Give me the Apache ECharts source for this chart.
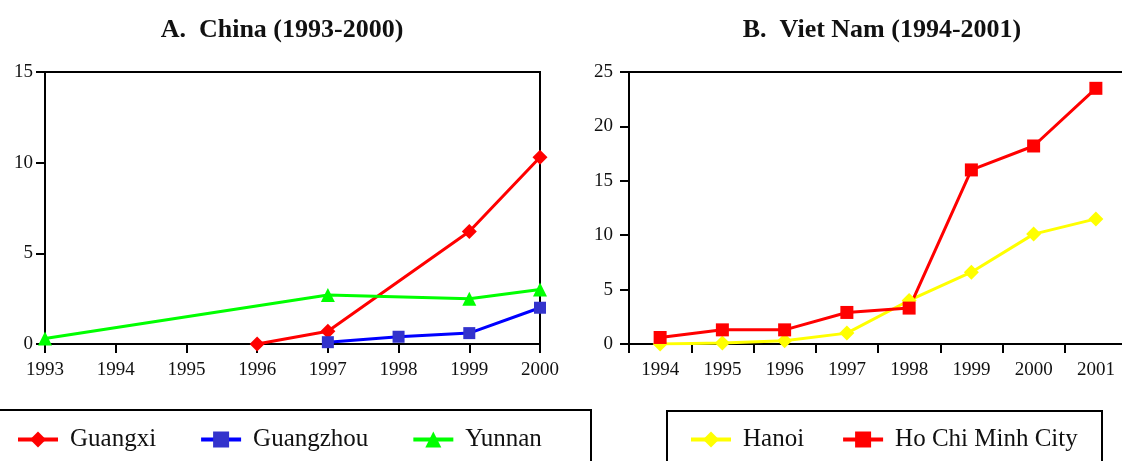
<!DOCTYPE html>
<html>
<head>
<meta charset="utf-8">
<script src="https://cdn.jsdelivr.net/npm/echarts@6/dist/echarts.min.js"></script>
<style>
  html, body { margin: 0; padding: 0; background: #fff; }
  #chart { width: 1122px; height: 461px; }
</style>
</head>
<body>
<div id="chart"></div>
<script>
// panel A: China
const chinaYears = ['1993', '1994', '1995', '1996', '1997', '1998', '1999', '2000']
const guangxi = [null, null, null, 0, 0.7, null, 6.2, 10.3]
const guangzhou = [null, null, null, null, 0.1, 0.4, 0.6, 2.0]
const yunnan = [0.3, null, null, null, 2.7, null, 2.5, 3.0]

// panel B: Viet Nam
const vietYears = ['1994', '1995', '1996', '1997', '1998', '1999', '2000', '2001']
const hanoi = [0, 0.1, 0.3, 1.0, 4.0, 6.6, 10.1, 11.5]
const hcmc = [0.6, 1.3, 1.3, 2.9, 3.3, 16.0, 18.2, 23.5]

const titles = ['A.  China (1993-2000)', 'B.  Viet Nam (1994-2001)']

const FONT = 'Liberation Serif'
const chart = echarts.init(document.getElementById('chart'))

const axisLine = { show: true, lineStyle: { color: '#000', width: 2 } }
const axisTick = { show: true, length: 9, lineStyle: { color: '#000', width: 2 } }
const labelStyle = { color: '#111', fontFamily: FONT, fontSize: 19 }
const legendText = { fontFamily: FONT, fontSize: 25, color: '#111', padding: [0, 0, 0, 7] }

// helper for line series
const lineSeries = (name, data, color, symbol, size, idx, symbolColor) => ({
  name,
  type: 'line',
  xAxisIndex: idx,
  yAxisIndex: idx,
  data,
  connectNulls: true,
  symbol,
  symbolSize: size,
  lineStyle: { color, width: 3 },
  itemStyle: { color: symbolColor || color },
  emphasis: { disabled: true },
  animation: false
})

const option = {
  animation: false,
  title: [
    { text: titles[0], left: 277, top: 12, textAlign: 'center',
      textStyle: { fontFamily: FONT, fontSize: 26, fontWeight: 'bold', color: '#111' } },
    { text: titles[1], left: 877, top: 12, textAlign: 'center',
      textStyle: { fontFamily: FONT, fontSize: 26, fontWeight: 'bold', color: '#111' } }
  ],
  grid: [
    { left: 45, top: 72, width: 495, height: 272, show: true, borderColor: '#000', borderWidth: 2,
      outerBoundsMode: 'none' },
    { left: 629, top: 72, width: 498, height: 272, show: true, borderColor: '#000', borderWidth: 2,
      outerBoundsMode: 'none' }
  ],
  xAxis: [
    {
      type: 'category', gridIndex: 0, data: chinaYears, boundaryGap: false,
      axisLine, axisTick: { ...axisTick, alignWithLabel: true },
      axisLabel: { ...labelStyle, margin: 17, interval: 0 }
    },
    {
      type: 'category', gridIndex: 1, data: vietYears, boundaryGap: true,
      axisLine, axisTick,
      axisLabel: { ...labelStyle, margin: 17, interval: 0 }
    }
  ],
  yAxis: [
    {
      type: 'value', gridIndex: 0, min: 0, max: 15, interval: 5,
      axisLine, axisTick, splitLine: { show: false },
      axisLabel: { ...labelStyle, margin: 12 }
    },
    {
      type: 'value', gridIndex: 1, min: 0, max: 25, interval: 5,
      axisLine, axisTick, splitLine: { show: false },
      axisLabel: { ...labelStyle, margin: 16 }
    }
  ],
  legend: [
    {
      data: ['Guangxi', 'Guangzhou', 'Yunnan'],
      left: 11, top: 422, itemWidth: 40, itemHeight: 20, itemGap: 43,
      lineStyle: { width: 4 },
      textStyle: legendText
    },
    {
      data: ['Hanoi', 'Ho Chi Minh City'],
      left: 684, top: 422, itemWidth: 40, itemHeight: 20, itemGap: 37,
      lineStyle: { width: 4 },
      textStyle: legendText
    }
  ],
  graphic: [
    { type: 'rect', silent: true, shape: { x: -5, y: 410, width: 596, height: 80 },
      style: { fill: 'none', stroke: '#000', lineWidth: 2 } },
    { type: 'rect', silent: true, shape: { x: 667, y: 411, width: 435, height: 80 },
      style: { fill: 'none', stroke: '#000', lineWidth: 2 } }
  ],
  series: [
    lineSeries('Guangxi', guangxi, '#ff0000', 'diamond', 15, 0),
    lineSeries('Guangzhou', guangzhou, '#0000ff', 'rect', 12, 0, '#3333cc'),
    lineSeries('Yunnan', yunnan, '#00ff00', 'triangle', 14, 0),
    lineSeries('Hanoi', hanoi, '#ffff00', 'diamond', 15, 1),
    lineSeries('Ho Chi Minh City', hcmc, '#ff0000', 'rect', 13, 1)
  ]
}

chart.setOption(option)
</script>
</body>
</html>
